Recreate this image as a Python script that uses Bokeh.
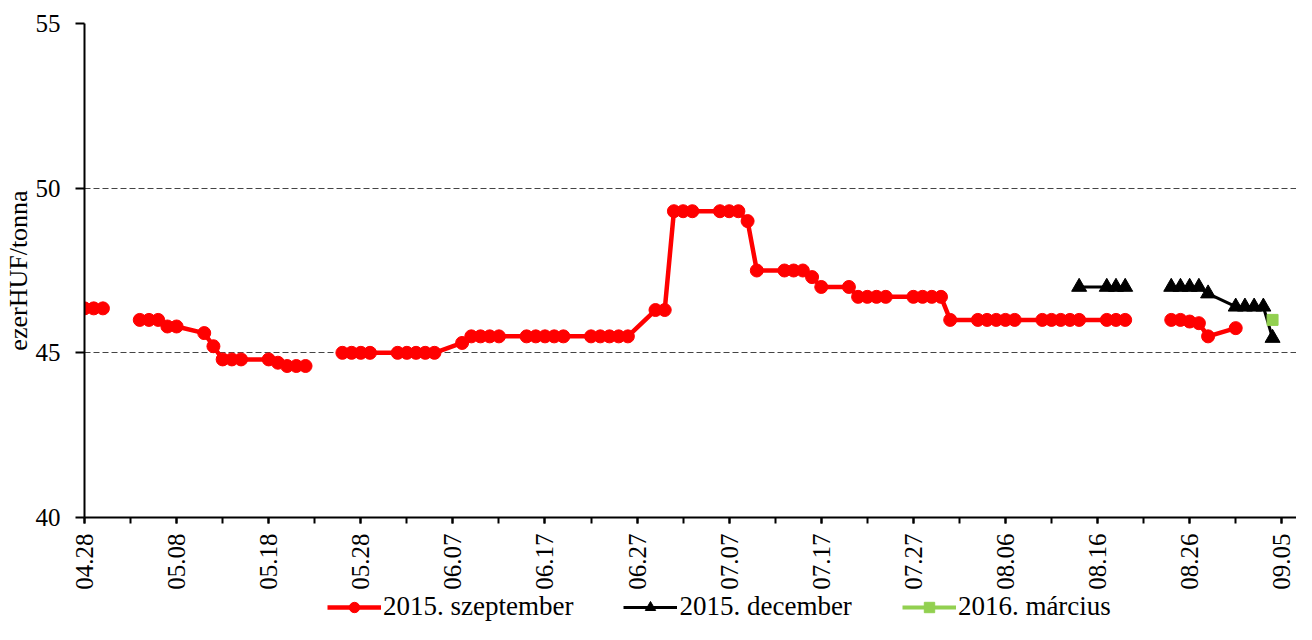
import numpy as np
import pandas as pd
from math import pi
from bokeh.plotting import figure
from bokeh.layouts import column
from bokeh.models import Range1d, FixedTicker, Legend, LegendItem
from bokeh.embed import file_html
from bokeh.resources import INLINE

YEAR = 2015

dates = ["04.28", "04.29", "04.30",
         "05.01", "05.04", "05.05", "05.06", "05.07", "05.08",
         "05.11", "05.12", "05.13", "05.14", "05.15",
         "05.18", "05.19", "05.20", "05.21", "05.22",
         "05.25", "05.26", "05.27", "05.28", "05.29",
         "06.01", "06.02", "06.03", "06.04", "06.05",
         "06.08", "06.09", "06.10", "06.11", "06.12",
         "06.15", "06.16", "06.17", "06.18", "06.19",
         "06.22", "06.23", "06.24", "06.25", "06.26",
         "06.29", "06.30",
         "07.01", "07.02", "07.03",
         "07.06", "07.07", "07.08", "07.09", "07.10",
         "07.13", "07.14", "07.15", "07.16", "07.17",
         "07.20", "07.21", "07.22", "07.23", "07.24",
         "07.27", "07.28", "07.29", "07.30", "07.31",
         "08.03", "08.04", "08.05", "08.06", "08.07",
         "08.10", "08.11", "08.12", "08.13", "08.14",
         "08.17", "08.18", "08.19", "08.20", "08.21",
         "08.24", "08.25", "08.26", "08.27", "08.28",
         "08.31",
         "09.01", "09.02", "09.03", "09.04"]

szeptember_2015 = [46.35, 46.35, 46.35,
                   None, 46.0, 46.0, 46.0, 45.8, 45.8,
                   45.6, 45.2, 44.8, 44.8, 44.8,
                   44.8, 44.7, 44.6, 44.6, 44.6,
                   None, 45.0, 45.0, 45.0, 45.0,
                   45.0, 45.0, 45.0, 45.0, 45.0,
                   45.3, 45.5, 45.5, 45.5, 45.5,
                   45.5, 45.5, 45.5, 45.5, 45.5,
                   45.5, 45.5, 45.5, 45.5, 45.5,
                   46.3, 46.3,
                   49.3, 49.3, 49.3,
                   49.3, 49.3, 49.3, 49.0, 47.5,
                   47.5, 47.5, 47.5, 47.3, 47.0,
                   47.0, 46.7, 46.7, 46.7, 46.7,
                   46.7, 46.7, 46.7, 46.7, 46.0,
                   46.0, 46.0, 46.0, 46.0, 46.0,
                   46.0, 46.0, 46.0, 46.0, 46.0,
                   46.0, 46.0, 46.0, None, None,
                   46.0, 46.0, 45.95, 45.9, 45.5,
                   45.75,
                   None, None, None, None]

december_2015 = [None] * 78 + [47.0,
                 47.0, 47.0, 47.0, None, None,
                 47.0, 47.0, 47.0, 47.0, 46.8,
                 46.4,
                 46.4, 46.4, 46.4, 45.45]

marcius_2016 = [None] * 93 + [46.0]

tick_labels = ["04.28", "05.08", "05.18", "05.28", "06.07", "06.17", "06.27",
               "07.07", "07.17", "07.27", "08.06", "08.16", "08.26", "09.05"]

series_names = ["2015. szeptember", "2015. december", "2016. március"]
y_ticks = [40, 45, 50, 55]

FONT = "Liberation Serif"
RED, BLACK, GREEN = "#FF0000", "#000000", "#92D050"

t0 = pd.Timestamp(f"{YEAR}-04-28")


def to_day(s):
    m, d = s.split(".")
    return (pd.Timestamp(year=YEAR, month=int(m), day=int(d)) - t0).days


x = np.array([to_day(d) for d in dates], dtype=float)
major = [to_day(t) for t in tick_labels]
minor = sorted(set(major + [m + 5 for m in major[:-1]]))

y1 = np.array(szeptember_2015, dtype=float)
y2 = np.array(december_2015, dtype=float)
y3 = np.array(marcius_2016, dtype=float)

p = figure(width=1296, height=592, output_backend="svg", toolbar_location=None,
           x_range=Range1d(0, 131.6), y_range=Range1d(40, 55),
           min_border_left=79, min_border_right=0, min_border_top=23,
           min_border_bottom=73)
p.outline_line_color = None
p.background_fill_color = "white"
p.border_fill_color = "white"

p.xgrid.visible = False
p.ygrid.ticker = FixedTicker(ticks=[45, 50, 55])
p.ygrid.grid_line_color = "#444444"
p.ygrid.grid_line_dash = "6 3"
p.ygrid.grid_line_width = 1

# x axis
p.xaxis.ticker = FixedTicker(ticks=major, minor_ticks=minor)
p.xaxis.major_label_overrides = {m: lab for m, lab in zip(major, tick_labels)}
p.xaxis.major_label_orientation = pi / 2
p.xaxis.major_label_text_font = FONT
p.xaxis.major_label_text_font_size = "25px"
p.xaxis.major_label_text_color = "black"
p.xaxis.major_label_standoff = 10
p.xaxis.axis_line_width = 2
p.xaxis.axis_line_color = "black"
p.xaxis.major_tick_out = 6
p.xaxis.major_tick_in = 0
p.xaxis.minor_tick_out = 6
p.xaxis.minor_tick_in = 0
p.xaxis.major_tick_line_width = 2
p.xaxis.minor_tick_line_width = 2
p.xaxis.major_tick_line_color = "black"
p.xaxis.minor_tick_line_color = "black"

# y axis
p.yaxis.ticker = FixedTicker(ticks=y_ticks)
p.yaxis.major_label_text_font = FONT
p.yaxis.major_label_text_font_size = "25px"
p.yaxis.major_label_text_color = "black"
p.yaxis.major_label_standoff = 15
p.yaxis.axis_line_width = 2
p.yaxis.axis_line_color = "black"
p.yaxis.major_tick_out = 9
p.yaxis.major_tick_in = 0
p.yaxis.minor_tick_line_color = None
p.yaxis.major_tick_line_width = 2
p.yaxis.major_tick_line_color = "black"
p.yaxis.axis_label = "ezerHUF/tonna"
p.yaxis.axis_label_text_font = FONT
p.yaxis.axis_label_text_font_size = "26px"
p.yaxis.axis_label_text_font_style = "normal"
p.yaxis.axis_label_text_color = "black"
p.yaxis.axis_label_standoff = 0


def draw_series(fig):
    r = []
    r.append(fig.line(x, y1, line_color=RED, line_width=4.5))
    r.append(fig.scatter(x, y1, marker="circle", size=13, fill_color=RED, line_color=RED))
    r.append(fig.line(x, y2, line_color=BLACK, line_width=3))
    r.append(fig.scatter(x, y2, marker="triangle", size=15, fill_color=BLACK, line_color=BLACK))
    r.append(fig.line(x, y3, line_color=GREEN, line_width=4))
    r.append(fig.scatter(x, y3, marker="square", size=11, fill_color=GREEN, line_color=GREEN))
    return r


draw_series(p)

# legend strip below the chart: same series, plotted outside its visible range
lg = figure(width=1296, height=32, output_backend="svg", toolbar_location=None,
            x_range=Range1d(0, 1), y_range=Range1d(0, 1),
            x_axis_location=None, y_axis_location=None,
            min_border_left=0, min_border_right=0, min_border_top=0,
            min_border_bottom=0)
lg.grid.visible = False
lg.outline_line_color = None
lg.background_fill_color = "white"
lg.border_fill_color = "white"

rr = draw_series(lg)

legend = Legend(items=[LegendItem(label=series_names[0], renderers=[rr[0], rr[1]]),
                       LegendItem(label=series_names[1], renderers=[rr[2], rr[3]]),
                       LegendItem(label=series_names[2], renderers=[rr[4], rr[5]])],
                location=(243, 2), orientation="horizontal")
legend.label_text_font = FONT
legend.label_text_font_size = "27px"
legend.label_text_color = "black"
legend.glyph_width = 54
legend.glyph_height = 26
legend.label_height = 26
legend.label_standoff = 2
legend.spacing = 50
legend.padding = 0
legend.margin = 0
legend.border_line_color = None
legend.background_fill_alpha = 0
lg.add_layout(legend, "center")

layout = column(p, lg, spacing=0)
open("out.html", "w").write(file_html(layout, INLINE))
